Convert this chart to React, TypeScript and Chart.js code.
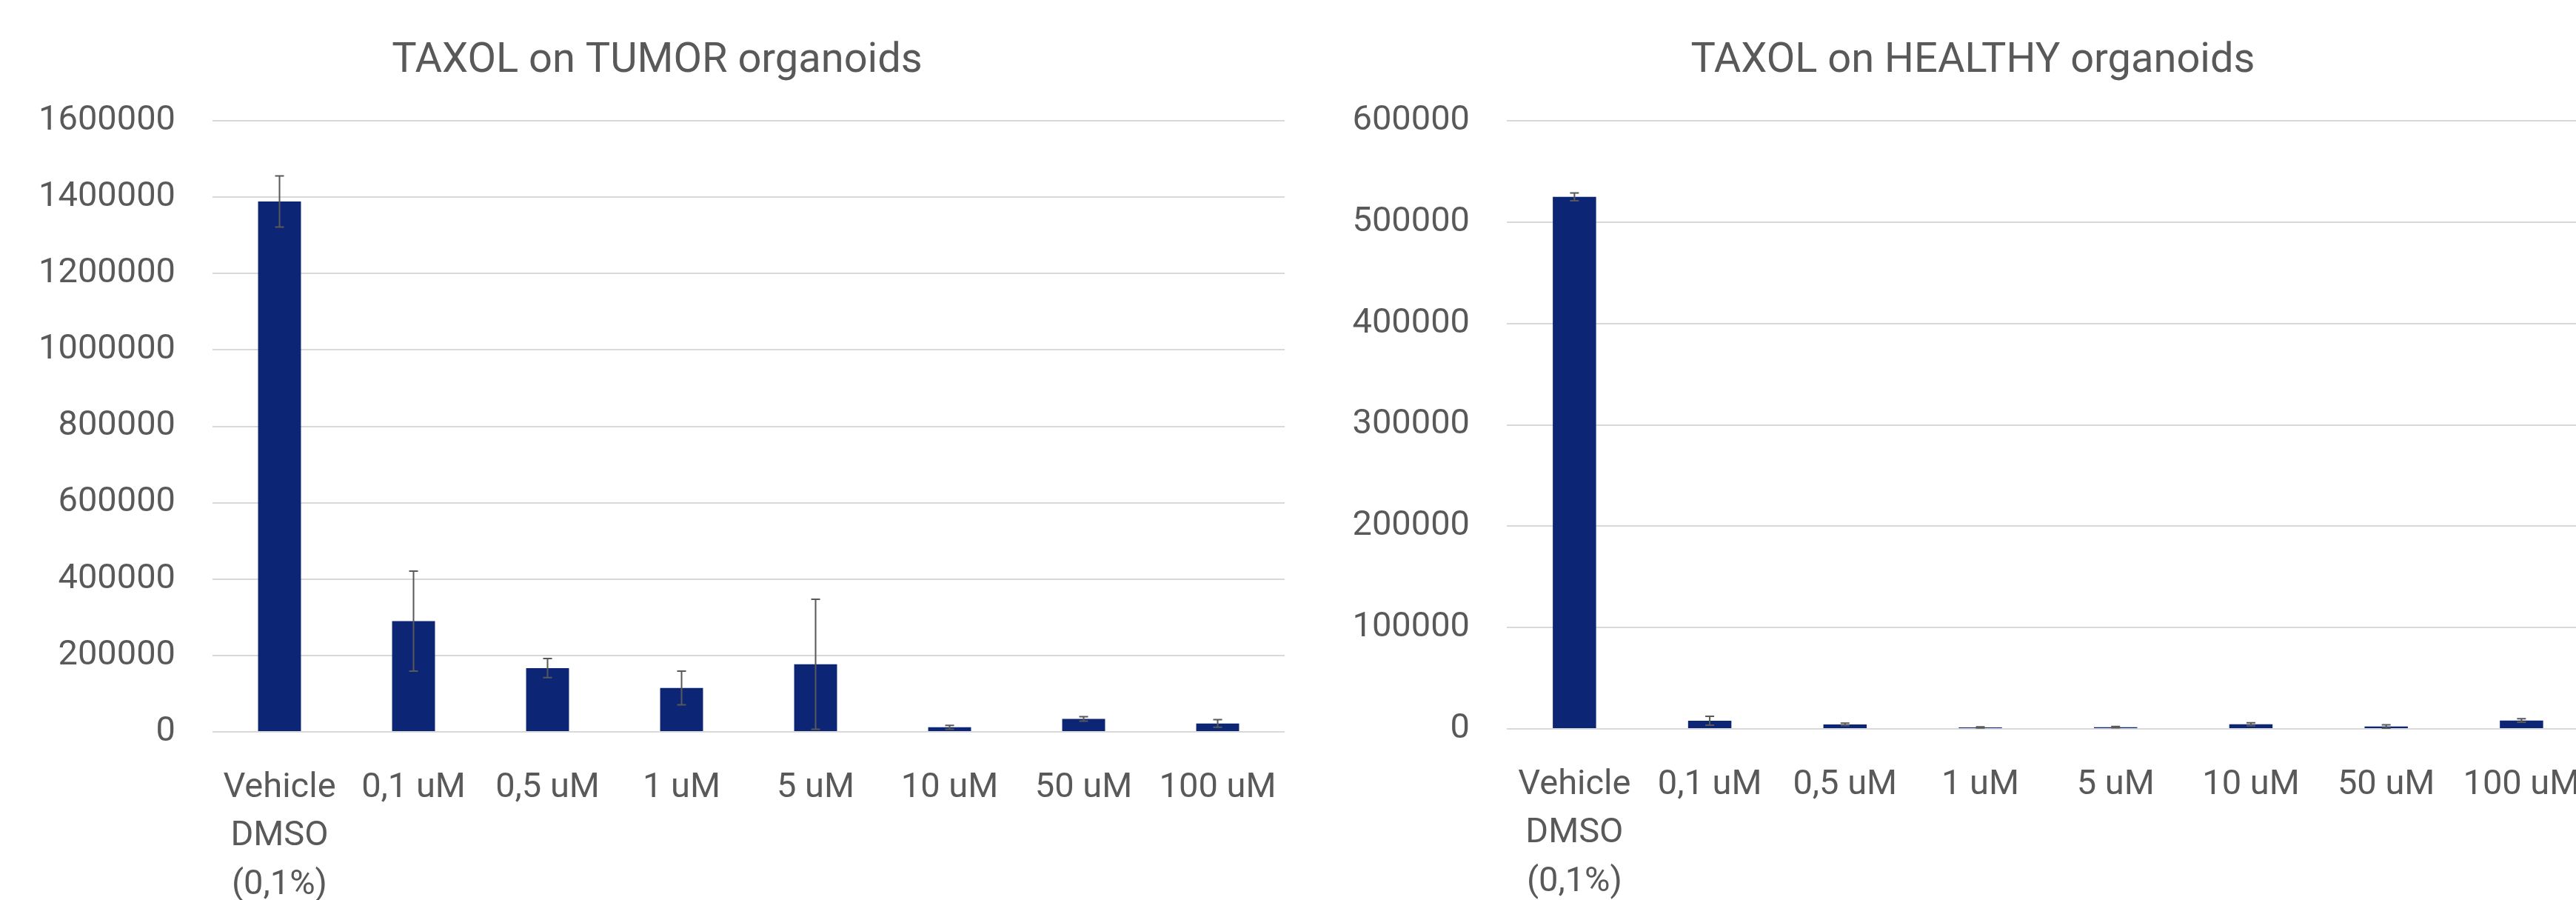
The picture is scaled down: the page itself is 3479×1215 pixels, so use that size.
import React, { useEffect, useRef } from "react";
import { Chart, registerables } from "chart.js";

Chart.register(...registerables);

const categories: (string | string[])[] = [
  ["Vehicle", "DMSO", "(0,1%)"],
  "0,1 uM",
  "0,5 uM",
  "1 uM",
  "5 uM",
  "10 uM",
  "50 uM",
  "100 uM",
];

const tumorValues = [1389000, 290000, 167000, 115000, 177000, 12000, 34000, 22000];
const tumorErrors = [67000, 131000, 25000, 44000, 170000, 5000, 6000, 10000];

const healthyValues = [525000, 8000, 4400, 1500, 1700, 4600, 2400, 8300];
const healthyErrors = [3800, 4400, 1200, 500, 600, 1500, 1600, 1800];

const tumorTitle = "TAXOL on TUMOR organoids";
const healthyTitle = "TAXOL on HEALTHY organoids";

const tumorTicks = { max: 1600000, step: 200000 };
const healthyTicks = { max: 600000, step: 100000 };

const BAR_COLOR = "#0c2574";
const TEXT_COLOR = "#595959";
const GRID_COLOR = "#d9d9d9";
const FONT = "Roboto";

const errorBarPlugin = {
  id: "errorBars",
  afterDatasetsDraw(chart: any) {
    const errs: number[] = chart.options.plugins.errorBars?.errors || [];
    const meta = chart.getDatasetMeta(0);
    const yScale = chart.scales.y;
    const vals = chart.data.datasets[0].data as number[];
    const ctx = chart.ctx;
    ctx.save();
    ctx.strokeStyle = TEXT_COLOR;
    ctx.lineWidth = 2;
    meta.data.forEach((el: any, i: number) => {
      const e = errs[i];
      if (e == null) return;
      const x = el.x;
      const yt = yScale.getPixelForValue(vals[i] + e);
      const yb = yScale.getPixelForValue(vals[i] - e);
      ctx.beginPath();
      ctx.moveTo(x, yt);
      ctx.lineTo(x, yb);
      ctx.moveTo(x - 6, yt);
      ctx.lineTo(x + 6, yt);
      ctx.moveTo(x - 6, yb);
      ctx.lineTo(x + 6, yb);
      ctx.stroke();
    });
    ctx.restore();
  },
};

type Cfg = {
  title: string;
  values: number[];
  errors: number[];
  max: number;
  step: number;
  padLeft: number;
  padRight: number;
  yWidth: number;
  xHeight: number;
};

function BarChart(props: Cfg & { left: number; width: number }) {
  const ref = useRef<HTMLCanvasElement | null>(null);
  useEffect(() => {
    if (!ref.current) return;
    const chart = new Chart(ref.current, {
      type: "bar",
      data: {
        labels: categories,
        datasets: [
          {
            data: props.values,
            backgroundColor: BAR_COLOR,
            borderWidth: 0,
            barPercentage: 0.32,
            categoryPercentage: 1,
          },
        ],
      },
      options: {
        animation: false,
        responsive: false,
        devicePixelRatio: 1,
        layout: { padding: { left: props.padLeft, right: props.padRight, top: 0, bottom: 0 } },
        plugins: {
          legend: { display: false },
          tooltip: { enabled: false },
          title: {
            display: true,
            text: props.title,
            color: TEXT_COLOR,
            font: { family: FONT, size: 56, weight: "normal", lineHeight: 1.2 },
            padding: { top: 49, bottom: 47 },
          },
          // @ts-ignore
          errorBars: { errors: props.errors },
        },
        scales: {
          x: {
            grid: { display: false },
            border: { display: false },
            ticks: {
              color: TEXT_COLOR,
              font: { family: FONT, size: 47, lineHeight: 1.4 },
              padding: 35,
              maxRotation: 0,
              minRotation: 0,
              autoSkip: false,
            },
            afterFit: (s: any) => {
              s.height = props.xHeight;
            },
          },
          y: {
            min: 0,
            max: props.max,
            border: { display: false },
            grid: { color: GRID_COLOR, lineWidth: 2, drawTicks: false },
            ticks: {
              stepSize: props.step,
              color: TEXT_COLOR,
              font: { family: FONT, size: 47 },
              padding: 50,
              callback: (v: any) => String(v),
            },
            afterFit: (s: any) => {
              s.width = props.yWidth;
            },
          },
        },
      },
      plugins: [errorBarPlugin],
    } as any);
    return () => chart.destroy();
  }, []);
  return (
    <canvas
      ref={ref}
      width={props.width}
      height={1215}
      style={{ position: "absolute", left: props.left, top: 0, width: props.width, height: 1215 }}
    />
  );
}

export default function App() {
  return (
    <div
      style={{
        position: "fixed",
        left: 0,
        top: 0,
        width: "100vw",
        height: "100vh",
        overflow: "hidden",
        background: "#ffffff",
      }}
    >
      <BarChart
        left={0}
        width={1760}
        title={tumorTitle}
        values={tumorValues}
        errors={tumorErrors}
        max={tumorTicks.max}
        step={tumorTicks.step}
        padLeft={40}
        padRight={25}
        yWidth={247}
        xHeight={227}
      />
      <BarChart
        left={1760}
        width={1760}
        title={healthyTitle}
        values={healthyValues}
        errors={healthyErrors}
        max={healthyTicks.max}
        step={healthyTicks.step}
        padLeft={60}
        padRight={11}
        yWidth={215}
        xHeight={231}
      />
    </div>
  );
}
